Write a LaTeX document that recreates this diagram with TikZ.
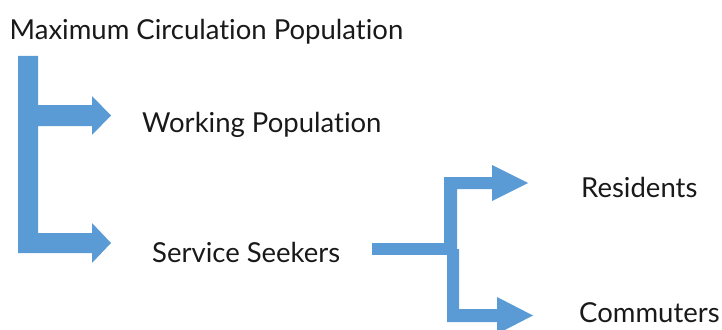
\documentclass[tikz,border=0pt]{standalone}
\usepackage{fontspec}
\setmainfont{Lato}[Ligatures={NoCommon}]
\definecolor{arrowblue}{HTML}{5B9BD5}
\begin{document}
\begin{tikzpicture}[x=1pt,y=-1pt,
  lbl/.style={anchor=base west,inner sep=0pt,font=\fontsize{27.5}{33}\selectfont,text=black!90},
  shaft/.style={fill=arrowblue,draw=none}]
\useasboundingbox (0,0) rectangle (722,329);
\clip (0,0) rectangle (722,329);
% labels
\node[lbl] (mcp) at (9.5,40) {Maximum Circulation Population};
\node[lbl] (wp) at (142,132.5) {Working Population};
\node[lbl] (ss) at (152,262.5) {Service Seekers};
\node[lbl] (res) at (581,197.5) {Residents};
\node[lbl] (com) at (579,322.5) {Commuters};
% left split arrow
\fill[shaft] (18,56) -- (38,56) -- (38,105) -- (92,105) -- (92,96) -- (111,115.5) -- (92,135) -- (92,126)
  -- (38,126) -- (38,233) -- (92,233) -- (92,223) -- (111,243) -- (92,263) -- (92,253) -- (18,253) -- cycle;
% right split arrows
\fill[shaft] (372,243) rectangle (457,255);
\fill[shaft] (444,249) -- (444,177) -- (492,177) -- (492,165) -- (528,183) -- (492,201) -- (492,189)
  -- (457,189) -- (457,249) -- cycle;
\fill[shaft] (447,249) -- (459,249) -- (459,309) -- (497,309) -- (497,297) -- (533,315.5) -- (497,334)
  -- (497,322) -- (447,322) -- cycle;
\end{tikzpicture}
\end{document}
